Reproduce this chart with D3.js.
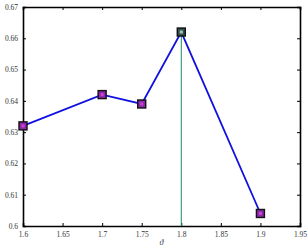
<!DOCTYPE html>
<html>
<head>
<meta charset="utf-8">
<script src="https://cdn.jsdelivr.net/npm/d3@7"></script>
<style>
  body { margin: 0; background: #fff; }
  svg text { font-family: "Liberation Serif", "DejaVu Serif", serif; fill: #333; }
</style>
</head>
<body>
<div class="chart-section"></div>
<script>
const thetas = [1.6, 1.7, 1.75, 1.8, 1.9];
const scores = [0.632, 0.642, 0.639, 0.662, 0.604];
const xTicks = [1.6, 1.65, 1.7, 1.75, 1.8, 1.85, 1.9, 1.95];
const yTicks = [0.6, 0.61, 0.62, 0.63, 0.64, 0.65, 0.66, 0.67];
const bestTheta = 1.8;

const width = 308;
const height = 250;
const margin = { top: 7, right: 8, bottom: 24, left: 23 };

const x = d3.scaleLinear().domain([1.6, 1.95]).range([margin.left, width - margin.right]);
const y = d3.scaleLinear().domain([0.6, 0.67]).range([height - margin.bottom, margin.top]);

const svg = d3
  .select(".chart-section")
  .append("svg")
  .attr("width", width)
  .attr("height", height);

// axes, ticks pointing inward on all four sides
const fmt = (d) => String(+d.toFixed(3));

const xAxis = svg
  .append("g")
  .attr("transform", `translate(0,${y(0.6)})`)
  .call(d3.axisBottom(x).tickValues(xTicks).tickSize(-3).tickPadding(6).tickFormat(fmt));

const yAxis = svg
  .append("g")
  .attr("transform", `translate(${x(1.6)},0)`)
  .call(d3.axisLeft(y).tickValues(yTicks).tickSize(-3).tickPadding(5).tickFormat(fmt));

svg
  .append("g")
  .attr("transform", `translate(0,${y(0.67)})`)
  .call(d3.axisTop(x).tickValues(xTicks).tickSize(-3).tickFormat(""));

svg
  .append("g")
  .attr("transform", `translate(${x(1.95)},0)`)
  .call(d3.axisRight(y).tickValues(yTicks).tickSize(-3).tickFormat(""));

svg.selectAll(".domain").attr("stroke", "#000").attr("stroke-width", 1.6);
svg.selectAll(".tick line").attr("stroke", "#000");
svg.selectAll(".tick text").attr("font-size", 7.5).attr("fill", "#333");

// vertical marker at the best theta
svg
  .append("line")
  .attr("x1", x(bestTheta))
  .attr("x2", x(bestTheta))
  .attr("y1", y(0.6))
  .attr("y2", y(scores[thetas.indexOf(bestTheta)]))
  .attr("stroke", "#1a8a6a")
  .attr("stroke-width", 1);

// line
const points = thetas.map((t, i) => [t, scores[i]]);
svg
  .append("path")
  .datum(points)
  .attr("fill", "none")
  .attr("stroke", "#1010e0")
  .attr("stroke-width", 1.8)
  .attr("d", d3.line().x((d) => x(d[0])).y((d) => y(d[1])));

// markers
const mk = svg
  .selectAll("g.marker")
  .data(points)
  .join("g")
  .attr("class", "marker")
  .attr("transform", (d) => `translate(${x(d[0])},${y(d[1])})`);

mk.append("rect")
  .attr("x", -4)
  .attr("y", -4)
  .attr("width", 8)
  .attr("height", 8)
  .attr("fill", (d) => (d[0] === bestTheta ? "#34504c" : "#8a2aa8"))
  .attr("stroke", "#111")
  .attr("stroke-width", 1.4);

mk.append("rect")
  .attr("x", -1.5)
  .attr("y", -1.5)
  .attr("width", 3)
  .attr("height", 3)
  .attr("fill", (d) => (d[0] === bestTheta ? "#a0c8c0" : "#d040d8"));

// axis label
svg
  .append("text")
  .attr("x", x(1.775))
  .attr("y", height - 5)
  .attr("text-anchor", "middle")
  .attr("font-size", 8)
  .attr("font-style", "italic")
  .text("ϑ");
</script>
</body>
</html>
